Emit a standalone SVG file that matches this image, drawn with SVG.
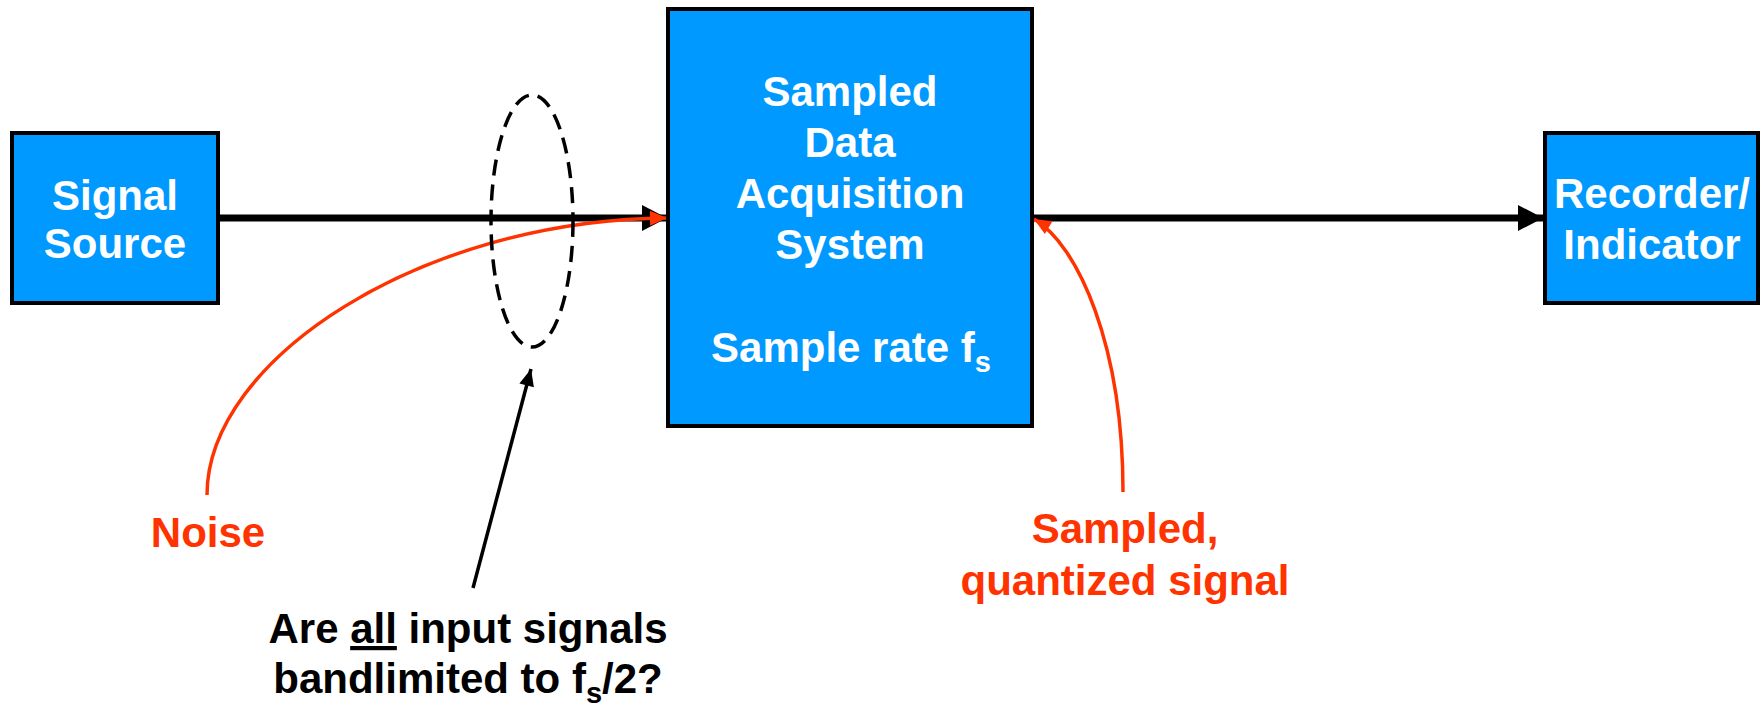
<svg xmlns="http://www.w3.org/2000/svg" width="1760" height="714" viewBox="0 0 1760 714">
  <style>
    .box { fill: #0099FF; stroke: #000000; stroke-width: 4; }
    .t { font-family: "Liberation Sans", Arial, sans-serif; font-weight: bold; font-size: 42px; text-anchor: middle; }
    .w { fill: #FFFFFF; }
    .k { fill: #000000; }
    .r { fill: #FF3300; }
    .sub { font-size: 29px; }
    .main { stroke: #000000; stroke-width: 7; fill: none; }
    .red { stroke: #FF3300; stroke-width: 3.5; fill: none; }
    .ptr { stroke: #000000; stroke-width: 3.5; fill: none; }
    marker { overflow: visible; }
  </style>
  <defs>
    <marker id="bigArrow" markerUnits="userSpaceOnUse" markerWidth="27" markerHeight="27" refX="25" refY="13" orient="auto">
      <path d="M0,0 L25,13 L0,26 z" fill="#000000"/>
    </marker>
    <marker id="redArrow" markerUnits="userSpaceOnUse" markerWidth="18" markerHeight="16" refX="17" refY="7.5" orient="auto">
      <path d="M0,0 L17,7.5 L0,15 z" fill="#FF3300"/>
    </marker>
    <marker id="ptrArrow" markerUnits="userSpaceOnUse" markerWidth="18" markerHeight="16" refX="17" refY="7.5" orient="auto">
      <path d="M0,0 L17,7.5 L0,15 z" fill="#000000"/>
    </marker>
  </defs>

  <rect width="1760" height="714" fill="#FFFFFF"/>

  <g id="connectors">
    <line class="main" x1="218" y1="218" x2="667" y2="218" marker-end="url(#bigArrow)"/>
    <line class="main" x1="1032" y1="218" x2="1543" y2="218" marker-end="url(#bigArrow)"/>
    <path class="red" d="M207,495 C207,360 420,220 667,218" marker-end="url(#redArrow)"/>
    <path class="red" d="M1123,492 C1123,345 1078,245 1034,219" marker-end="url(#redArrow)"/>
    <line class="ptr" x1="473" y1="588" x2="531" y2="369" marker-end="url(#ptrArrow)"/>
  </g>

  <g id="bandlimit-ellipse">
    <ellipse cx="532" cy="221" rx="41" ry="126" fill="none" stroke="#000000" stroke-width="3.5" stroke-dasharray="16 9"/>
  </g>

  <g id="signal-source">
    <rect class="box" x="12" y="133" width="206" height="170"/>
    <text class="t w" x="115" y="210">Signal</text>
    <text class="t w" x="115" y="258">Source</text>
  </g>

  <g id="daq-system">
    <rect class="box" x="668" y="9" width="364" height="417"/>
    <text class="t w" x="850" y="106">Sampled</text>
    <text class="t w" x="850" y="157">Data</text>
    <text class="t w" x="850" y="208">Acquisition</text>
    <text class="t w" x="850" y="259">System</text>
    <text class="t w" x="851" y="362">Sample rate f<tspan class="sub" dy="10">s</tspan></text>
  </g>

  <g id="recorder">
    <rect class="box" x="1545" y="133" width="213" height="170"/>
    <text class="t w" x="1652" y="208">Recorder/</text>
    <text class="t w" x="1652" y="259">Indicator</text>
  </g>

  <g id="noise-label">
    <text class="t r" x="208" y="547">Noise</text>
  </g>

  <g id="output-label">
    <text class="t r" x="1125" y="543">Sampled,</text>
    <text class="t r" x="1125" y="595">quantized signal</text>
  </g>

  <g id="question-label">
    <text class="t k" x="468" y="643">Are <tspan text-decoration="underline">all</tspan> input signals</text>
    <text class="t k" x="468" y="693">bandlimited to f<tspan class="sub" dy="10">s</tspan><tspan dy="-10">/2?</tspan></text>
  </g>
</svg>
